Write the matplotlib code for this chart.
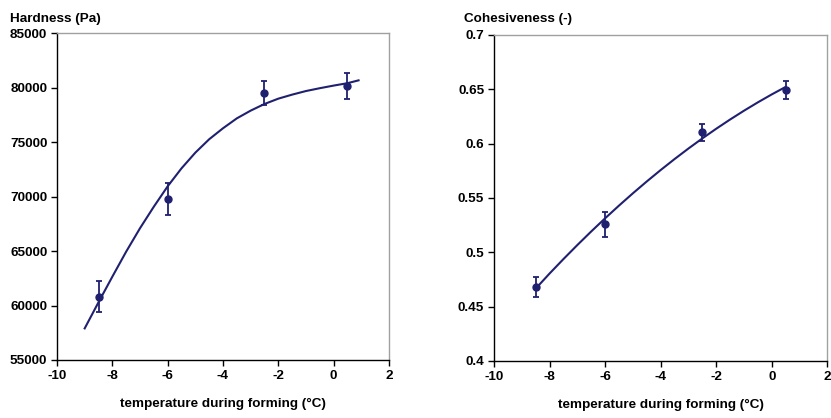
import matplotlib
matplotlib.use('Agg')
import matplotlib.pyplot as plt

plt.rcParams['font.family'] = ['Liberation Sans', 'DejaVu Sans']
plt.rcParams['font.weight'] = 'bold'
plt.rcParams['axes.unicode_minus'] = False

# measured means and standard deviations
temp = [-8.5, -6, -2.5, 0.5]
hardness = [60810, 69770, 79500, 80170]
hardness_err = [1400, 1470, 1120, 1200]
cohesion = [0.4678, 0.5258, 0.6104, 0.6494]
cohesion_err = [0.0092, 0.0113, 0.0080, 0.0084]

# fitted trend curves
fit_t_hard = [-9, -8.5, -8, -7.5, -7, -6.5, -6, -5.5, -5, -4.5, -4, -3.5,
              -3, -2.5, -2, -1.5, -1, -0.5, 0, 0.5, 0.9]
fit_hard = [57900, 60300, 62650, 64950, 67100, 69080, 70950, 72600, 74040,
            75270, 76280, 77190, 77900, 78510, 79000, 79370, 79700, 79960,
            80200, 80420, 80680]
fit_t_coh = [-8.5, -8, -7.5, -7, -6.5, -6, -5.5, -5, -4.5, -4, -3.5, -3,
             -2.5, -2, -1.5, -1, -0.5, 0, 0.5]
fit_coh = [0.4666, 0.4805, 0.4938, 0.5067, 0.5192, 0.5313, 0.5430, 0.5543,
           0.5652, 0.5757, 0.5858, 0.5955, 0.6048, 0.6137, 0.6222, 0.6303,
           0.6380, 0.6453, 0.6522]

navy = '#202070'
fs = 9.7

fig = plt.figure(figsize=(8.31, 4.18), dpi=100)
ax1 = fig.add_axes([0.0686, 0.1388, 0.3995, 0.7815])
ax2 = fig.add_axes([0.5945, 0.1364, 0.4010, 0.7799])


def style(ax):
	for s in ('left', 'bottom'):
		ax.spines[s].set_color('black')
		ax.spines[s].set_linewidth(1.0)
	for s in ('top', 'right'):
		ax.spines[s].set_color('#a0a0a0')
		ax.spines[s].set_linewidth(1.0)
	ax.tick_params(direction='out', length=4, width=1, labelsize=fs, pad=3)
	ax.set_xlim(-10, 2)
	ax.set_xticks(range(-10, 3, 2))
	ax.set_xlabel('temperature during forming (°C)', fontsize=fs,
	              fontweight='bold', labelpad=12)


ax1.plot(fit_t_hard, fit_hard, color=navy, lw=1.5, zorder=2)
ax1.errorbar(temp, hardness, yerr=hardness_err, fmt='o', color=navy,
             ms=5, capsize=2, elinewidth=1.3, capthick=1.3, zorder=3)
style(ax1)
ax1.set_ylim(55000, 85000)
ax1.set_yticks(range(55000, 85001, 5000))
fig.text(0.012, 0.955, 'Hardness (Pa)', fontsize=fs, fontweight='bold',
         ha='left', va='center')

ax2.plot(fit_t_coh, fit_coh, color=navy, lw=1.5, zorder=2)
ax2.errorbar(temp, cohesion, yerr=cohesion_err, fmt='o', color=navy,
             ms=5, capsize=2, elinewidth=1.3, capthick=1.3, zorder=3)
style(ax2)
ax2.set_ylim(0.4, 0.7)
ax2.set_yticks([0.4, 0.45, 0.5, 0.55, 0.6, 0.65, 0.7])
ax2.set_yticklabels(['0.4', '0.45', '0.5', '0.55', '0.6', '0.65', '0.7'])
fig.text(0.558, 0.955, 'Cohesiveness (-)', fontsize=fs, fontweight='bold',
         ha='left', va='center')

fig.savefig('out.png', dpi=100)
